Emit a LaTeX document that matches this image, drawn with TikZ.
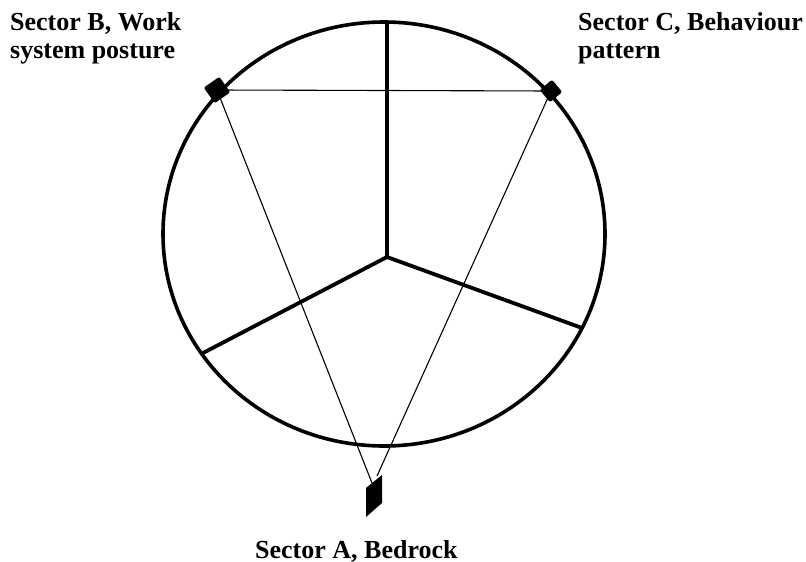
\documentclass[tikz,border=0pt]{standalone}
\usepackage{fontspec}
\setmainfont{Liberation Serif}
\begin{document}
\begin{tikzpicture}[x=1pt,y=-1pt,
  rim/.style={line width=3.6pt},
  spoke/.style={line width=3.8pt},
  link/.style={line width=1.1pt},
  marker/.style={rectangle,fill=black,inner sep=0pt,minimum size=19pt,rounded corners=2pt},
  label/.style={font=\bfseries\fontsize{26}{28}\selectfont,inner sep=0pt,align=left,anchor=base west}]
\useasboundingbox (0,0) rectangle (806,562);
% outer ring
\draw[rim] (384,234) ellipse [x radius=221, y radius=212];
% three sectors
\coordinate (hub) at (387,257);
\coordinate (top) at (387,22);
\coordinate (left) at (203,353);
\coordinate (right) at (582,328);
\draw[spoke,line join=round] (top) -- (hub) -- (left);
\draw[spoke] (hub) -- (right);
% sector markers
\node[marker,rotate=35] (B) at (217,90) {};
\node[marker,minimum size=16pt,rotate=40] (C) at (551,91) {};
\fill (366,488) -- (382,475) -- (382,503) -- (366,517) -- cycle;
\coordinate (Atl) at (372,483);
\coordinate (Atr) at (377,476);
% links between sectors
\draw[link] (B.center) -- (C.center);
\draw[link] (B.center) -- (Atl);
\draw[link] (C.center) -- (Atr);
% labels
\node[label] (lb) at (10,58) {Sector B, Work\\system posture};
\node[label] (lc) at (578,58) {Sector C, Behaviour\\pattern};
\node[label] (la) at (255,558) {Sector A, Bedrock};
\end{tikzpicture}
\end{document}
